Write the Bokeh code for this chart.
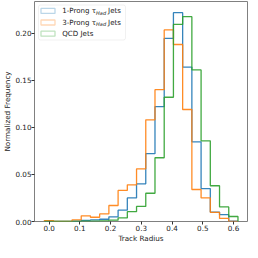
import numpy as np
from bokeh.plotting import figure
from bokeh.models import Range1d, FixedTicker, BoxAnnotation, Label
from bokeh.embed import file_html
from bokeh.resources import INLINE

# bin edges (Track Radius)
edges = [-0.0155, 0.0145, 0.0445, 0.0745, 0.1045, 0.1345, 0.1645, 0.1945, 0.2245,
         0.2545, 0.2845, 0.3145, 0.3445, 0.3745, 0.4045, 0.4345, 0.4645, 0.4945,
         0.5245, 0.5545, 0.5845, 0.6145]

one_prong = [0.0005, 0.0, 0.0, 0.0003, 0.0013, 0.0017, 0.0024, 0.005, 0.012, 0.025,
             0.040, 0.072, 0.122, 0.1945, 0.2218, 0.164, 0.0846, 0.035, 0.010, 0.0072, 0.0003]
three_prong = [0.001, 0.0, 0.0, 0.0017, 0.006, 0.0045, 0.008, 0.017, 0.033, 0.039,
               0.056, 0.108, 0.140, 0.2035, 0.188, 0.119, 0.034, 0.025, 0.0097, 0.0033, 0.0]
qcd = [0.0, 0.0, 0.0, 0.0, 0.0003, 0.0003, 0.0007, 0.0014, 0.0038, 0.0104,
       0.016, 0.030, 0.0677, 0.132, 0.2093, 0.2176, 0.161, 0.0857, 0.038, 0.0155, 0.0053]

x_ticks = [0.0, 0.1, 0.2, 0.3, 0.4, 0.5, 0.6]
y_ticks = [0.0, 0.05, 0.10, 0.15, 0.20]

series = [("1-Prong ", one_prong, "#1f77b4"),
          ("3-Prong ", three_prong, "#ff7f0e"),
          ("QCD Jets", qcd, "#2ca02c")]

FONT = "DejaVu Sans"
FW, FH = 213, 220

p = figure(frame_width=FW, frame_height=FH, output_backend="svg", toolbar_location=None,
           x_range=Range1d(-0.0475, 0.6455), y_range=Range1d(0, 0.2337),
           min_border_left=2, min_border_right=1, min_border_top=1, min_border_bottom=1)
p.background_fill_color = "white"
p.border_fill_color = "white"
p.outline_line_color = "#808080"
p.outline_line_width = 1
p.xgrid.visible = False
p.ygrid.visible = False


def step_xy(e, v):
    xs = [e[0]]
    ys = [0.0]
    for i, val in enumerate(v):
        xs += [e[i], e[i + 1]]
        ys += [val, val]
    xs.append(e[-1])
    ys.append(0.0)
    return xs, ys


for name, vals, col in series:
    xs, ys = step_xy(edges, vals)
    p.line(xs, ys, line_color=col, line_width=1.3, line_alpha=0.9)

for ax in (p.xaxis[0], p.yaxis[0]):
    ax.axis_line_color = None
    ax.major_tick_line_color = "#333333"
    ax.major_tick_out = 3
    ax.major_tick_in = 0
    ax.minor_tick_line_color = None
    ax.major_label_text_font = FONT
    ax.major_label_text_font_size = "7.2px"
    ax.major_label_text_color = "#222222"
    ax.axis_label_text_font = FONT
    ax.axis_label_text_font_size = "7.2px"
    ax.axis_label_text_font_style = "normal"
    ax.axis_label_text_color = "#222222"
    ax.major_label_standoff = 0
    ax.axis_label_standoff = 0

p.xaxis.ticker = FixedTicker(ticks=x_ticks)
p.yaxis.ticker = FixedTicker(ticks=y_ticks)
p.xaxis.major_label_overrides = {t: f"{t:.1f}" for t in x_ticks}
p.yaxis.major_label_overrides = {t: f"{t:.2f}" for t in y_ticks}
p.xaxis.axis_label = "Track Radius"
p.yaxis.axis_label = "Normalized Frequency"


def sy(top_offset):
    # screen y is measured upward from the frame bottom
    return FH - top_offset


def sbox(**kw):
    return BoxAnnotation(left_units="screen", right_units="screen",
                         top_units="screen", bottom_units="screen", **kw)


p.add_layout(sbox(left=4, right=91, top=sy(3.5), bottom=sy(38.5),
                  fill_color="white", fill_alpha=0.8,
                  line_color="#d0d0d0", line_width=1, border_radius=2))
rows = [9.4, 21.0, 32.2]
for (name, vals, col), r in zip(series, rows):
    p.add_layout(sbox(left=6.5, right=20.5, top=sy(r - 2.5), bottom=sy(r + 2.5),
                      fill_alpha=0, line_color=col, line_width=1.3))
    common = dict(x_units="screen", y_units="screen", text_font=FONT,
                  text_baseline="middle", text_color="#222222")
    if name == "QCD Jets":
        p.add_layout(Label(x=27.7, y=sy(r), text=name, text_font_size="7.1px", **common))
    else:
        p.add_layout(Label(x=27.7, y=sy(r), text=name + "\u03c4", text_font_size="7.1px", **common))
        p.add_layout(Label(x=61.6, y=sy(r + 1.6), text="Had", text_font_size="5px",
                           text_font_style="italic", **common))
        p.add_layout(Label(x=73.6, y=sy(r), text="Jets", text_font_size="7.1px", **common))

open("out.html", "w").write(file_html(p, INLINE))
